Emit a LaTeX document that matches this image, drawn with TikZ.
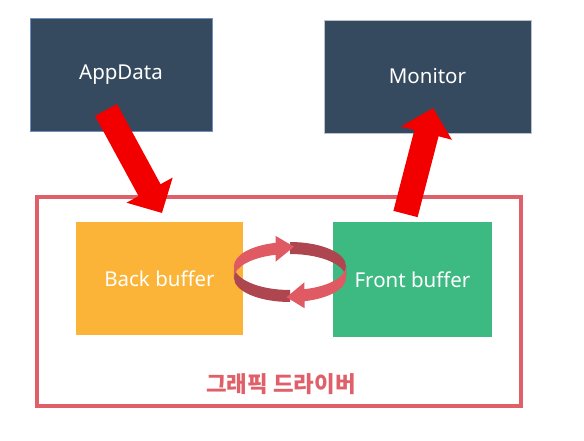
\documentclass[tikz,border=0pt]{standalone}
\usepackage{fontspec}
\setmainfont{Noto Sans}
\newfontfamily\krfont{Noto Sans CJK KR}
\usetikzlibrary{arrows.meta}
\definecolor{slate}{HTML}{354A5F}
\definecolor{slateblue}{HTML}{6F8FC0}
\definecolor{slategray}{HTML}{B8C2CC}
\definecolor{backcol}{HTML}{FBB437}
\definecolor{frontcol}{HTML}{3DBA82}
\definecolor{drivercol}{HTML}{E0606A}
\definecolor{ringlight}{HTML}{E05A64}
\definecolor{ringdark}{HTML}{AE4650}
\definecolor{arrowred}{HTML}{F20000}

\begin{document}
\begin{tikzpicture}[x=1pt, y=-1pt,
    box/.style={inner sep=0pt, text=white, font=\fontsize{20.5}{23}\selectfont},
    bigarrow/.style={draw=arrowred, line width=25pt, -{Triangle[length=26pt, width=51pt]}},
    ellarc/.style={x radius=56, y radius=24}]
  \useasboundingbox (0,0) rectangle (584,441);

  \node [box, fill=slate, draw=slateblue, line width=1pt,
    minimum width=182pt, minimum height=113pt] (appdata) at (121,75) {AppData};
  \node [box, fill=slate, draw=slategray, line width=0.8pt,
    minimum width=207pt, minimum height=113pt] (monitor) at (427.5,76.5) {Monitor};

  \node [draw=drivercol, line width=3.5pt, minimum width=484pt,
    minimum height=209pt] (driver) at (279,301.5) {};
  \node [box, fill=backcol, minimum width=167pt, minimum height=113pt]
    (back) at (159.5,278.5) {Back buffer};
  \node [box, fill=frontcol, minimum width=159pt, minimum height=115pt]
    (front) at (412.5,279.5) {Front buffer};
  \node [text=drivercol, font=\krfont\bfseries\fontsize{22.4}{26}\selectfont]
    (drivername) at (281,384) {그래픽 드라이버};

  % data flow
  \coordinate (appout) at (106,110);
  \coordinate (backin) at (162,213);
  \coordinate (frontout) at (405.5,214);
  \coordinate (monitorin) at (433,108);
  \draw [bigarrow] (appout) -- (backin);
  \draw [bigarrow] (frontout) -- (monitorin);

  % swap ring
  \coordinate (ring) at (290,266);
  \begin{scope}[shift={(ring)}]
    \fill [ringdark] (0,-24) arc [start angle=270, end angle=360, ellarc]
      -- ++(0,12) arc [start angle=0, end angle=-90, ellarc] -- cycle;
    \fill [ringdark] (0,24) arc [start angle=90, end angle=180, ellarc]
      -- ++(0,12) arc [start angle=180, end angle=90, ellarc] -- cycle;
    \fill [ringlight] (-56,0) arc [start angle=180, end angle=255, ellarc]
      -- ++(0,-7) -- (4,-19.3) -- (-14.5,-4.2) -- (-14.5,-11.2)
      arc [start angle=255, end angle=180, ellarc] -- cycle;
    \fill [ringlight] (56,0) arc [start angle=0, end angle=75, ellarc]
      -- ++(0,-7) -- (-3.5,31.2) -- (14.5,42.2) -- (14.5,35.2)
      arc [start angle=75, end angle=0, ellarc] -- cycle;
  \end{scope}
\end{tikzpicture}
\end{document}
